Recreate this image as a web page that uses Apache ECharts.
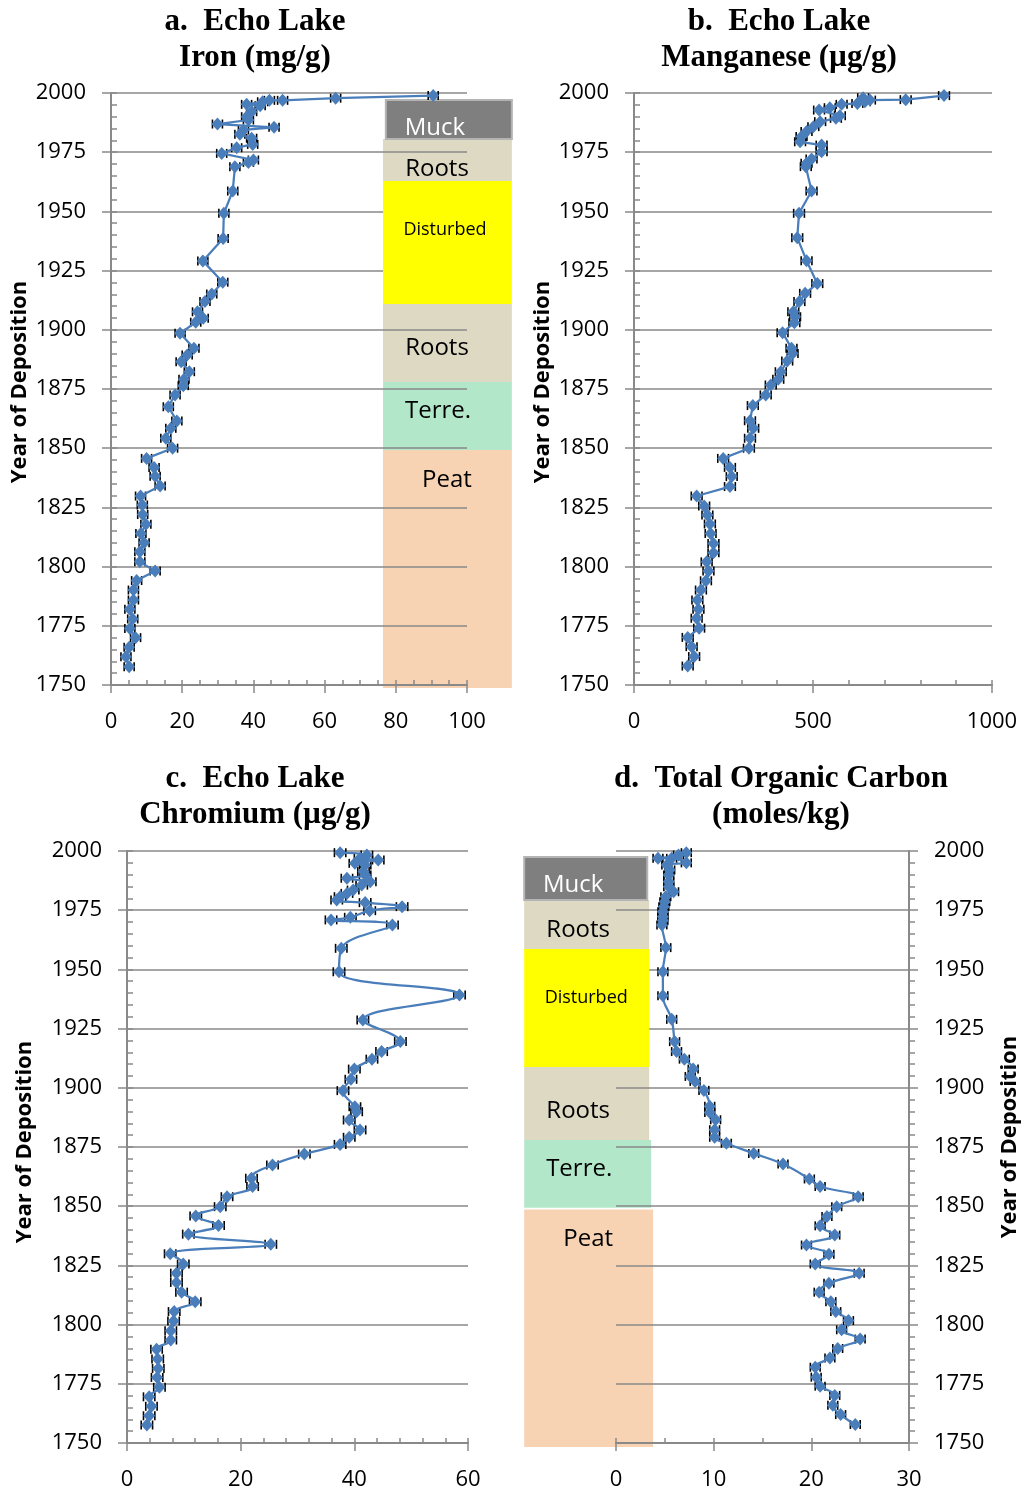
<!DOCTYPE html>
<html><head><meta charset="utf-8">
<script src="https://cdn.jsdelivr.net/npm/echarts/dist/echarts.min.js"></script>
<style>html,body{margin:0;padding:0;background:#fff}#c{width:1024px;height:1495px}</style>
</head><body><div id="c"></div><script>
// ---------- data ----------
const yearMin = 1750, yearMax = 2000, yearInterval = 25, yearMinor = 5;

const feYears = [1998.9,1997.8,1996.9,1996.9,1996.3,1995.2,1994.6,1992.1,1990.0,1988.6,1986.9,1985.5,1984.4,1982.6,1980.9,1978.3,1976.9,1974.5,1971.7,1970.7,1968.9,1958.6,1949.2,1938.6,1929.1,1920.1,1915.1,1911.9,1907.6,1904.9,1903.2,1898.5,1892.2,1889.4,1886.5,1882.3,1879.1,1876.4,1872.5,1867.5,1861.5,1858.4,1854.2,1850.0,1845.7,1841.9,1838.2,1834.0,1829.8,1826.0,1822.0,1817.9,1814.0,1810.1,1806.3,1802.0,1798.1,1794.1,1790.1,1785.9,1782.0,1777.9,1773.9,1770.0,1765.9,1761.9,1757.7];
const feValues = [90.5,63.1,48.2,44.5,42.6,38.1,41.9,39.5,38.1,38.6,29.9,45.8,37.2,36.2,39.5,39.8,35.3,31.1,40.0,38.6,34.8,34.2,31.7,31.5,25.8,31.4,28.3,26.4,24.3,25.9,23.8,19.4,23.3,21.4,19.7,22.0,20.5,20.3,18.0,16.1,18.5,16.8,15.4,17.3,10.0,12.1,12.4,13.8,8.3,8.8,8.9,9.8,8.4,9.3,8.1,8.1,12.4,7.2,6.3,6.3,5.3,6.1,5.3,6.9,5.1,4.2,5.1];

const mnYears = [1998.9,1997.2,1997.0,1998.0,1996.3,1995.6,1995.2,1993.8,1992.8,1990.4,1989.3,1987.9,1985.8,1983.7,1981.6,1979.4,1978.0,1975.2,1972.1,1970.3,1968.9,1958.6,1949.2,1938.9,1929.2,1919.5,1915.4,1911.9,1907.6,1905.5,1903.0,1898.8,1892.2,1890.0,1886.8,1882.3,1879.1,1876.7,1872.5,1868.0,1861.6,1858.4,1854.2,1850.0,1845.7,1841.9,1838.0,1833.8,1829.8,1825.6,1821.8,1818.0,1814.0,1809.8,1805.9,1802.0,1798.1,1794.0,1790.1,1785.9,1782.0,1778.2,1774.0,1770.1,1766.2,1762.0,1758.0];
const mnValues = [866,759,659,640,645,624,580,547,517,575,564,520,501,482,468,464,524,524,496,482,480,496,461,456,482,512,478,462,445,450,448,415,440,443,428,410,403,382,368,332,324,333,324,321,249,268,273,268,175,196,205,212,214,222,222,203,208,201,187,177,180,175,182,150,161,168,150];

const crYears = [1999.3,1998.3,1996.9,1996.2,1994.8,1994.1,1991.3,1989.9,1988.5,1987.0,1985.6,1983.5,1982.1,1980.7,1979.3,1978.2,1976.5,1974.8,1972.0,1970.9,1968.8,1958.9,1949.0,1939.2,1928.6,1919.5,1915.3,1912.1,1907.9,1903.6,1898.8,1892.0,1889.9,1886.4,1882.2,1879.1,1876.1,1872.0,1867.4,1861.8,1858.3,1854.0,1849.8,1845.9,1841.8,1838.2,1833.9,1829.9,1825.6,1821.7,1817.8,1813.7,1809.7,1805.5,1801.5,1797.4,1793.5,1789.6,1785.5,1781.5,1777.7,1773.5,1769.5,1765.5,1761.5,1757.6];
const crValues = [37.5,42.2,41.0,44.2,40.1,41.9,41.6,41.9,38.7,42.8,41.3,39.8,38.7,37.5,36.9,41.9,48.4,42.7,39.3,35.9,46.7,37.7,37.3,58.5,41.5,48.1,44.8,43.1,40.0,39.4,38.0,40.1,40.4,39.1,41.0,39.1,37.5,31.2,25.6,21.9,22.1,17.6,16.4,12.1,16.1,10.8,25.3,7.6,9.9,8.7,8.7,9.6,12.0,8.3,8.2,7.7,7.7,5.2,5.4,5.5,5.3,5.7,3.9,4.3,3.9,3.5];

const tocYears = [1999.3,1998.3,1996.9,1996.9,1995.0,1994.1,1992.0,1989.9,1987.0,1984.9,1982.8,1980.7,1978.6,1976.5,1974.3,1972.2,1970.6,1968.8,1959.2,1949.0,1938.9,1928.9,1919.5,1915.3,1912.1,1907.9,1904.8,1902.7,1898.9,1892.2,1889.6,1886.5,1882.3,1879.1,1876.6,1872.3,1867.8,1861.5,1858.3,1854.0,1849.8,1845.6,1841.7,1837.8,1833.6,1829.7,1825.6,1821.7,1817.5,1813.7,1809.7,1805.5,1801.7,1797.8,1793.9,1789.9,1785.9,1782.0,1777.8,1774.0,1770.1,1765.9,1762.0,1757.8];
const tocValues = [7.2,6.4,4.3,5.7,7.2,5.2,5.5,5.4,5.4,5.4,5.9,5.1,5.0,4.9,4.8,4.8,4.8,4.7,5.1,4.8,4.8,5.7,6.0,6.2,7.0,7.9,7.6,8.1,9.0,9.6,9.6,10.2,10.1,10.1,11.3,14.1,17.1,19.8,20.9,24.8,22.6,21.6,20.9,22.4,19.5,21.8,20.4,24.9,21.8,20.8,22.0,22.5,23.8,23.1,25.0,22.7,21.9,20.4,20.5,20.9,22.4,22.2,23.0,24.5];

// error bar half-widths
const feErr = 1.4, mnErr = 15, crErr = 1.0, tocErr = 0.5;

// sediment layers
const layerNames = ['Muck','Roots','Disturbed','Roots','Terre.','Peat'];
const layerTopA = [1997.0,1980.6,1962.8,1910.9,1878.0,1849.2];
const layerBottomA = [1980.6,1962.8,1910.9,1878.0,1849.2,1748.7];
const layerLeftA = [77.2,76.4,76.4,76.4,76.4,76.4];
const layerRightA = [112.6,112.6,112.6,112.6,112.6,112.6];
const layerTopD = [1997.5,1979.3,1958.6,1908.8,1878.0,1848.6];
const layerBottomD = [1979.3,1958.6,1908.8,1878.0,1849.3,1748.3];
const layerLeftD = [-9.4,-9.4,-9.4,-9.4,-9.4,-9.4];
const layerRightD = [3.2,3.4,3.4,3.4,3.6,3.8];

// ---------- style ----------
const LINE = '#4a7ebb';
const AX = '#898989';
const STYLE = {
  fill: ['#7f7f7f','#ddd9c3','#ffff00','#ddd9c3','#b3e7ca','#f7d3b4'],
  textColor: ['#fff','#000','#000','#000','#000','#000'],
  textSize: [24,24,18,24,24,24],
  dx: [52,54,62,54,55,64],
  dy: [28,30,49,44,29,30],
  onTop: [true,false,true,false,false,false]
};

const panels = [
  {grid:{left:111,top:93,width:356,height:592}, xMin:0,xMax:100,xInt:20,xMinor:5, yPos:'left', minorOut:false, xs:feValues, ys:feYears, err:feErr, smooth:false,
   layers:{top:layerTopA,bottom:layerBottomA,left:layerLeftA,right:layerRightA}},
  {grid:{left:634,top:93,width:358,height:592}, xMin:0,xMax:1000,xInt:500,xMinor:100, yPos:'left', minorOut:false, xs:mnValues, ys:mnYears, err:mnErr, smooth:false},
  {grid:{left:127,top:851,width:341,height:592}, xMin:0,xMax:60,xInt:20,xMinor:4, yPos:'left', minorOut:false, xs:crValues, ys:crYears, err:crErr, smooth:0.4},
  {grid:{left:616,top:851,width:293,height:592}, xMin:0,xMax:30,xInt:10,xMinor:5, yPos:'right', minorOut:true, xs:tocValues, ys:tocYears, err:tocErr, smooth:0.4,
   layers:{top:layerTopD,bottom:layerBottomD,left:layerLeftD,right:layerRightD}}
];

function errRender(err) {
  return function (params, api) {
    const v = api.value(0), y = api.value(1);
    const a = api.coord([v - err, y]), b = api.coord([v + err, y]);
    const h = 4.5, st = {stroke:'#000', lineWidth:1.6};
    return {type:'group', children:[
      {type:'line', shape:{x1:a[0],y1:a[1],x2:b[0],y2:b[1]}, style:st},
      {type:'line', shape:{x1:a[0],y1:a[1]-h,x2:a[0],y2:a[1]+h}, style:st},
      {type:'line', shape:{x1:b[0],y1:b[1]-h,x2:b[0],y2:b[1]+h}, style:st}
    ]};
  };
}

function boxRender(params, api) {
  const k = api.value(4);
  const tl = api.coord([api.value(0), api.value(2)]);
  const br = api.coord([api.value(1), api.value(3)]);
  const textX = (k === 0 ? tl[0] - 3 : tl[0]) + STYLE.dx[k];
  return {type:'group', children:[
    {type:'rect', shape:{x:tl[0], y:tl[1], width:br[0]-tl[0], height:br[1]-tl[1]},
     style:{fill:STYLE.fill[k], stroke: k === 0 ? '#b4b4b4' : null, lineWidth: k === 0 ? 2 : 0}},
    {type:'text', style:{text:layerNames[k], x:textX, y:tl[1]+STYLE.dy[k], fill:STYLE.textColor[k],
      font: STYLE.textSize[k] + 'px "Open Sans"', align:'center', verticalAlign:'middle',
      textAlign:'center', textVerticalAlign:'middle'}}
  ]};
}

const plain = v => String(v);
const grids = [], xAxes = [], yAxes = [], series = [];
panels.forEach((p, i) => {
  const gi = 2*i, go = 2*i + 1;
  grids.push(Object.assign({containLabel:false}, p.grid));
  grids.push(Object.assign({containLabel:false}, p.grid));
  xAxes.push({gridIndex:gi, type:'value', position:'bottom', min:p.xMin, max:p.xMax, interval:p.xInt,
    axisLine:{show:true, onZero:false, lineStyle:{color:AX, width:2}},
    axisTick:{show:true, inside:false, length:8, lineStyle:{color:AX, width:1.5}},
    axisLabel:{show:true, margin:26, fontSize:22, fontFamily:'Open Sans', color:'#000', formatter:plain},
    splitLine:{show:false}});
  xAxes.push({gridIndex:go, type:'value', position:'bottom', min:p.xMin, max:p.xMax, interval:p.xMinor,
    axisLine:{show:false, onZero:false},
    axisTick:{show:true, inside:true, length:5, lineStyle:{color:AX, width:1.5}},
    axisLabel:{show:false}, splitLine:{show:false}});
  yAxes.push({gridIndex:gi, type:'value', position:p.yPos, min:yearMin, max:yearMax, interval:yearInterval,
    axisLine:{show:true, onZero:false, lineStyle:{color:AX, width:2}},
    axisTick:{show:true, inside:false, length:9, lineStyle:{color:AX, width:1.5}},
    axisLabel:{show:true, margin:25, fontSize:22, fontFamily:'Open Sans', color:'#000', formatter:plain},
    splitLine:{show:true, lineStyle:{color:AX, width:1.5}}});
  yAxes.push({gridIndex:go, type:'value', position:p.yPos, min:yearMin, max:yearMax, interval:yearMinor,
    axisLine:{show:false, onZero:false},
    axisTick:{show:true, inside:!p.minorOut, length:6, lineStyle:{color:AX, width:1.5}},
    axisLabel:{show:false}, splitLine:{show:false}});

  if (p.layers) {
    const L = p.layers;
    const mk = (flag) => layerNames.map((n, k) => [L.left[k], L.right[k], L.top[k], L.bottom[k], k])
      .filter(d => STYLE.onTop[d[4]] === flag);
    series.push({type:'custom', xAxisIndex:gi, yAxisIndex:gi, z:-1, clip:false, silent:true,
      renderItem:boxRender, data:mk(false), encode:{x:[0,1], y:[2,3]}});
    series.push({type:'custom', xAxisIndex:gi, yAxisIndex:gi, z:1, clip:false, silent:true,
      renderItem:boxRender, data:mk(true), encode:{x:[0,1], y:[2,3]}});
  }
  const pts = p.xs.map((v, k) => [v, p.ys[k]]);
  series.push({type:'custom', xAxisIndex:gi, yAxisIndex:gi, z:3, clip:false, silent:true,
    renderItem:errRender(p.err), data:pts, encode:{x:0, y:1}});
  series.push({type:'line', xAxisIndex:gi, yAxisIndex:gi, z:4, data:pts, smooth:p.smooth,
    symbol:'diamond', symbolSize:[12,13], showAllSymbol:true,
    lineStyle:{color:LINE, width:2.25}, itemStyle:{color:LINE}, clip:false});
});

const TITLE_FONT = 'bold 31px "Liberation Serif"';
const NAME_FONT = 'bold 22px "Open Sans"';
function txt(text, x, y, font, rot) {
  return {type:'text', x:x, y:y, rotation:rot || 0,
    style:{text:text, font:font, fill:'#000', align:'center', verticalAlign:'middle', textAlign:'center', textVerticalAlign:'middle'}};
}
const graphics = [
  txt('a.  Echo Lake', 255, 22, TITLE_FONT), txt('Iron (mg/g)', 255, 58, TITLE_FONT),
  txt('b.  Echo Lake', 779, 22, TITLE_FONT), txt('Manganese (µg/g)', 779, 58, TITLE_FONT),
  txt('c.  Echo Lake', 255, 779, TITLE_FONT), txt('Chromium (µg/g)', 255, 815, TITLE_FONT),
  txt('d.  Total Organic Carbon', 781, 779, TITLE_FONT), txt('(moles/kg)', 781, 815, TITLE_FONT),
  txt('Year of Deposition', 20, 382, NAME_FONT, Math.PI/2),
  txt('Year of Deposition', 543, 382, NAME_FONT, Math.PI/2),
  txt('Year of Deposition', 25, 1142, NAME_FONT, Math.PI/2),
  txt('Year of Deposition', 1010, 1137, NAME_FONT, Math.PI/2)
];

const chart = echarts.init(document.getElementById('c'), null, {renderer:'canvas'});
chart.setOption({
  animation:false, backgroundColor:'#fff',
  grid:grids, xAxis:xAxes, yAxis:yAxes, series:series, graphic:graphics
});
</script></body></html>
